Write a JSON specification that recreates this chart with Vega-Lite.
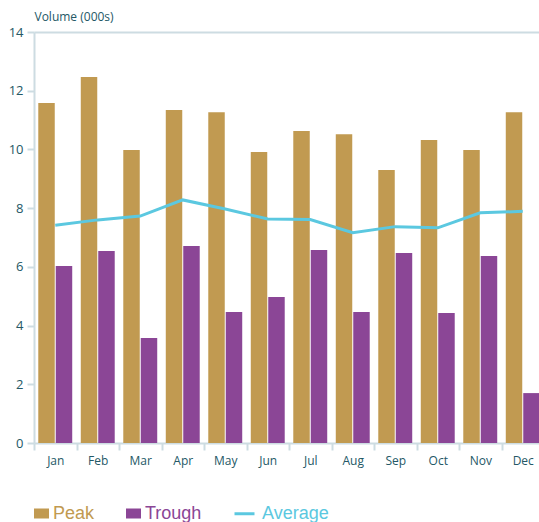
{
  "$schema": "https://vega.github.io/schema/vega-lite/v6.json",
  "width": 510,
  "height": 411,
  "autosize": {"type": "none"},
  "padding": {"left": 34, "top": 32, "right": 0, "bottom": 79},
  "background": "white",
  "config": {
    "view": {"stroke": null},
    "font": "Open Sans",
    "axis": {
      "domainColor": "#cddce2",
      "domainWidth": 2,
      "tickColor": "#cddce2",
      "tickWidth": 2,
      "tickSize": 7,
      "labelColor": "#245866",
      "labelFont": "Open Sans",
      "labelFontSize": 12,
      "labelPadding": 4
    }
  },
  "data": {
    "values": [
      {"month": "Jan", "series": "Peak", "value": 11.58},
      {"month": "Feb", "series": "Peak", "value": 12.47},
      {"month": "Mar", "series": "Peak", "value": 9.98},
      {"month": "Apr", "series": "Peak", "value": 11.34},
      {"month": "May", "series": "Peak", "value": 11.27},
      {"month": "Jun", "series": "Peak", "value": 9.91},
      {"month": "Jul", "series": "Peak", "value": 10.63},
      {"month": "Aug", "series": "Peak", "value": 10.52},
      {"month": "Sep", "series": "Peak", "value": 9.30},
      {"month": "Oct", "series": "Peak", "value": 10.32},
      {"month": "Nov", "series": "Peak", "value": 9.98},
      {"month": "Dec", "series": "Peak", "value": 11.27},
      {"month": "Jan", "series": "Trough", "value": 6.03},
      {"month": "Feb", "series": "Trough", "value": 6.54},
      {"month": "Mar", "series": "Trough", "value": 3.58},
      {"month": "Apr", "series": "Trough", "value": 6.71},
      {"month": "May", "series": "Trough", "value": 4.46},
      {"month": "Jun", "series": "Trough", "value": 4.97},
      {"month": "Jul", "series": "Trough", "value": 6.57},
      {"month": "Aug", "series": "Trough", "value": 4.46},
      {"month": "Sep", "series": "Trough", "value": 6.47},
      {"month": "Oct", "series": "Trough", "value": 4.43},
      {"month": "Nov", "series": "Trough", "value": 6.37},
      {"month": "Dec", "series": "Trough", "value": 1.70},
      {"month": "Jan", "series": "Average", "value": 7.42},
      {"month": "Feb", "series": "Average", "value": 7.60},
      {"month": "Mar", "series": "Average", "value": 7.73},
      {"month": "Apr", "series": "Average", "value": 8.28},
      {"month": "May", "series": "Average", "value": 7.97},
      {"month": "Jun", "series": "Average", "value": 7.63},
      {"month": "Jul", "series": "Average", "value": 7.61},
      {"month": "Aug", "series": "Average", "value": 7.16},
      {"month": "Sep", "series": "Average", "value": 7.37},
      {"month": "Oct", "series": "Average", "value": 7.33},
      {"month": "Nov", "series": "Average", "value": 7.84},
      {"month": "Dec", "series": "Average", "value": 7.89}
    ]
  },
  "encoding": {
    "x": {
      "field": "month",
      "type": "nominal",
      "sort": ["Jan", "Feb", "Mar", "Apr", "May", "Jun", "Jul", "Aug", "Sep", "Oct", "Nov", "Dec"],
      "scale": {"paddingInner": 0, "paddingOuter": 0},
      "axis": {"title": null, "labelAngle": 0, "tickBand": "extent", "grid": false, "labelPadding": 5}
    },
    "y": {
      "field": "value",
      "type": "quantitative",
      "scale": {"domain": [0, 14], "nice": false},
      "axis": {
        "values": [0, 2, 4, 6, 8, 10, 12, 14],
        "title": "Volume (000s)",
        "titleAngle": 0,
        "titleX": 0,
        "titleY": -12,
        "titleAlign": "left",
        "titleBaseline": "alphabetic",
        "titleFont": "Open Sans",
        "titleFontSize": 12,
        "titleFontWeight": "normal",
        "titleColor": "#245866",
        "labelFontSize": 13,
        "grid": true,
        "gridColor": "#cddce2",
        "gridWidth": 2,
        "gridOpacity": {"condition": {"test": "datum.value === 14", "value": 1}, "value": 0}
      }
    },
    "color": {
      "field": "series",
      "type": "nominal",
      "scale": {"domain": ["Peak", "Trough", "Average"], "range": ["#c19a51", "#8b4696", "#5bc8e0"]},
      "legend": {
        "title": null,
        "orient": "none",
        "legendX": -4,
        "legendY": 470,
        "direction": "horizontal",
        "padding": 0,
        "labelFont": "Liberation Sans",
        "labelFontSize": 18,
        "labelOffset": 0,
        "columnPadding": 26,
        "symbolSize": 400,
        "encode": {
          "symbols": {
            "update": {
              "shape": {"signal": "datum.value === 'Average' ? 'stroke' : 'M-0.6,-0.35H0.6V0.35H-0.6Z'"},
              "fill": {"signal": "datum.value === 'Average' ? 'transparent' : scale('color', datum.value)"},
              "stroke": {"signal": "datum.value === 'Average' ? scale('color', datum.value) : 'transparent'"},
              "strokeWidth": {"value": 3},
              "opacity": {"value": 1}
            }
          },
          "labels": {
            "update": {
              "fill": {"scale": "color", "field": "value"},
              "dx": {"signal": "datum.value === 'Average' ? 6 : 0"}
            }
          }
        }
      }
    }
  },
  "layer": [
    {
      "transform": [{"filter": "datum.series !== 'Average'"}],
      "mark": {"type": "bar"},
      "encoding": {
        "xOffset": {
          "field": "series",
          "type": "nominal",
          "sort": ["Peak", "Trough"],
          "scale": {"paddingInner": 0.057, "paddingOuter": 0.245}
        }
      }
    },
    {
      "transform": [{"filter": "datum.series === 'Average'"}],
      "mark": {"type": "line", "strokeWidth": 3},
      "encoding": {}
    }
  ]
}
